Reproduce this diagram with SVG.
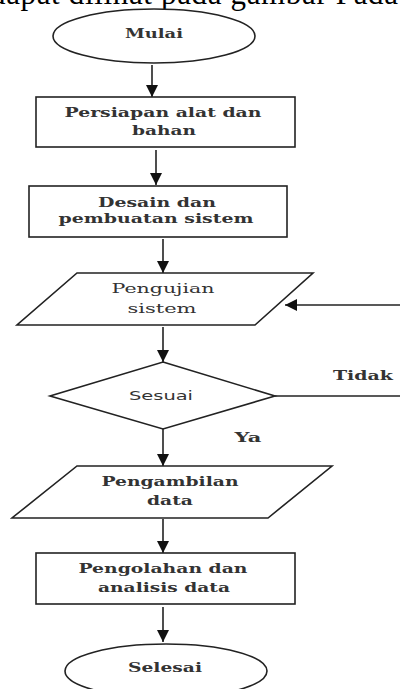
<svg xmlns="http://www.w3.org/2000/svg" width="400" height="689" viewBox="0 0 400 689">
<style>
.shape{fill:#fff;stroke:#222;stroke-width:1.6}
.t{font-family:"DejaVu Serif",serif;font-weight:bold;font-size:13px;fill:#333;text-anchor:middle}
.tl{font-family:"DejaVu Serif",serif;font-size:13px;fill:#333;text-anchor:middle}
.ts{font-family:"DejaVu Sans",sans-serif;font-size:12px;fill:#333;text-anchor:middle}
.c{stroke:#222;stroke-width:1.6;fill:none}
.top{font-family:"Liberation Serif",serif;font-size:31px;fill:#000}
</style>
<defs>
<marker id="ah" markerUnits="userSpaceOnUse" markerWidth="14" markerHeight="12" refX="12" refY="6" orient="auto">
<path d="M0,0 L12,6 L0,12 Z" fill="#111"/>
</marker>
</defs>
<text class="top" x="-10" y="4" textLength="408" lengthAdjust="spacing">dapat dilihat pada gambar  Pada</text>
<g id="connectors">
<line class="c" x1="152" y1="65" x2="152" y2="97" marker-end="url(#ah)"/>
<line class="c" x1="156" y1="150" x2="156" y2="185" marker-end="url(#ah)"/>
<line class="c" x1="163" y1="239" x2="163" y2="273" marker-end="url(#ah)"/>
<line class="c" x1="163" y1="327" x2="163" y2="362" marker-end="url(#ah)"/>
<line class="c" x1="163" y1="429" x2="163" y2="466" marker-end="url(#ah)"/>
<line class="c" x1="163" y1="519" x2="163" y2="553" marker-end="url(#ah)"/>
<line class="c" x1="163" y1="607" x2="163" y2="642" marker-end="url(#ah)"/>
<line class="c" x1="275" y1="396" x2="400" y2="396"/>
<line class="c" x1="400" y1="305" x2="285" y2="305" marker-end="url(#ah)"/>
<text class="t" x="363" y="380" textLength="60" lengthAdjust="spacingAndGlyphs">Tidak</text>
<text class="t" x="248" y="442" textLength="27" lengthAdjust="spacingAndGlyphs">Ya</text>
</g>
<g id="mulai">
<ellipse class="shape" cx="154" cy="36" rx="101" ry="27"/>
<text class="t" x="154" y="38" textLength="58" lengthAdjust="spacingAndGlyphs">Mulai</text>
</g>
<g id="persiapan">
<rect class="shape" x="36" y="97" width="259" height="50"/>
<text class="t" x="163" y="117" textLength="197" lengthAdjust="spacingAndGlyphs">Persiapan alat dan</text>
<text class="t" x="164" y="135" textLength="64" lengthAdjust="spacingAndGlyphs">bahan</text>
</g>
<g id="desain">
<rect class="shape" x="29" y="186" width="258" height="51"/>
<text class="t" x="157" y="207" textLength="118" lengthAdjust="spacingAndGlyphs">Desain dan</text>
<text class="t" x="156" y="223" textLength="195" lengthAdjust="spacingAndGlyphs">pembuatan sistem</text>
</g>
<g id="pengujian">
<polygon class="shape" points="77,273 313,273 255,325 17,325"/>
<text class="tl" x="163" y="293" textLength="103" lengthAdjust="spacingAndGlyphs">Pengujian</text>
<text class="tl" x="162" y="313" textLength="69" lengthAdjust="spacingAndGlyphs">sistem</text>
</g>
<g id="sesuai">
<polygon class="shape" points="163,362 275,396 163,429 50,396"/>
<text class="ts" x="161" y="400" textLength="64" lengthAdjust="spacingAndGlyphs">Sesuai</text>
</g>
<g id="pengambilan">
<polygon class="shape" points="77,466 332,466 268,518 12,518"/>
<text class="t" x="170" y="486" textLength="137" lengthAdjust="spacingAndGlyphs">Pengambilan</text>
<text class="t" x="170" y="505" textLength="46" lengthAdjust="spacingAndGlyphs">data</text>
</g>
<g id="pengolahan">
<rect class="shape" x="36" y="553" width="259" height="51"/>
<text class="t" x="163" y="573" textLength="169" lengthAdjust="spacingAndGlyphs">Pengolahan dan</text>
<text class="t" x="164" y="592" textLength="132" lengthAdjust="spacingAndGlyphs">analisis data</text>
</g>
<g id="selesai">
<ellipse class="shape" cx="166" cy="671" rx="101" ry="27"/>
<text class="t" x="165" y="672" textLength="74" lengthAdjust="spacingAndGlyphs">Selesai</text>
</g>
</svg>
